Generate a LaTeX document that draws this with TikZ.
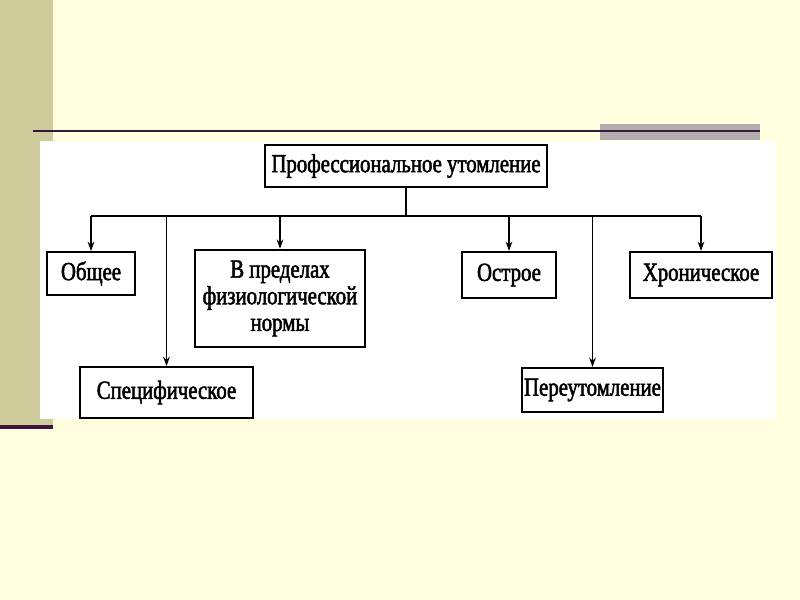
\documentclass[tikz,border=0pt]{standalone}
\usepackage{fontspec}
\setmainfont{Liberation Serif}[FakeStretch=0.8,FakeBold=2]
\usetikzlibrary{arrows.meta}
\definecolor{bgyellow}{RGB}{255,255,224}
\definecolor{olive}{RGB}{206,204,154}
\definecolor{grbar}{RGB}{178,174,174}
\definecolor{dpurple}{RGB}{60,20,60}
\begin{document}
\begin{tikzpicture}[x=0.75pt,y=-0.75pt,
  box/.style={draw=black,line width=1.6pt,fill=white,inner sep=0pt,
    font=\fontsize{19.5}{20}\selectfont,align=center},
  conn/.style={line width=1.3pt},
  arr/.style={conn,-{Stealth[length=7pt,width=5pt]}}]
\useasboundingbox (0,0) rectangle (800,600);
\fill[bgyellow] (0,0) rectangle (800,600);
\fill[olive] (0,0) rectangle (53,425);
\fill[dpurple] (0,425) rectangle (53,429);
\fill[grbar] (600,124) rectangle (760,140);
\draw[dpurple,line width=1.5pt] (33,131) -- (760,131);
\fill[white] (40,141) rectangle (776,419);
% nodes
\node[box,minimum width=212pt,minimum height=31.5pt] (top) at (406,166) {Профессиональное утомление};
\node[box,minimum width=66pt,minimum height=32pt] (obsh) at (91,273.5) {Общее};
\node[box,minimum width=127.5pt,minimum height=73pt] (norm) at (280,298.5) {В пределах\\физиологической\\нормы};
\node[box,minimum width=70.5pt,minimum height=34.5pt] (ostr) at (509,275) {Острое};
\node[box,minimum width=106.5pt,minimum height=34.5pt] (khron) at (701,275) {Хроническое};
\node[box,minimum width=130pt,minimum height=38pt] (spec) at (166.5,392.5) {Специфическое};
\node[box,minimum width=106pt,minimum height=33pt] (pere) at (592.5,390) {Переутомление};
% connectors
\coordinate (bL) at (91,216);
\coordinate (bR) at (701,216);
\draw[conn] (top.south) -- (top.south |- bL);
\draw[conn] (bL) -- (bR);
\draw[arr] (obsh.north |- bL) -- (obsh.north);
\draw[arr] (norm.north |- bL) -- (norm.north);
\draw[arr] (ostr.north |- bL) -- (ostr.north);
\draw[arr] (khron.north |- bL) -- (khron.north);
\draw[arr] (spec.north |- bL) -- (spec.north);
\draw[arr] (pere.north |- bL) -- (pere.north);
\end{tikzpicture}
\end{document}
